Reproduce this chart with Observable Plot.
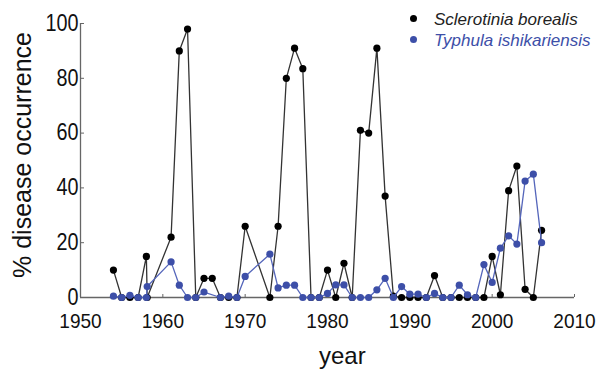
<!DOCTYPE html>
<html><head><meta charset="utf-8">
<script src="https://cdn.jsdelivr.net/npm/d3@7"></script>
<script src="https://cdn.jsdelivr.net/npm/@observablehq/plot@0.6"></script>
<style>
body{margin:0;background:#fff;}
#wrap{position:relative;width:599px;height:375px;overflow:hidden;}
.lab{position:absolute;font-family:"Liberation Sans",Arial,sans-serif;color:#111;white-space:nowrap;}
.leg{position:absolute;font-family:"Liberation Sans",Arial,sans-serif;font-style:italic;font-size:17px;white-space:nowrap;}
.dot{display:inline-block;width:7px;height:7px;border-radius:50%;margin-right:17px;vertical-align:middle;position:relative;top:-2px;}
</style>
</head><body>
<div id="wrap"></div>
<script>
const years = [1954,1955,1956,1957,1958,1958.1,1961,1962,1963,1964,1965,1966,1967,1968,1969,1970,
  1973,1974,1975,1976,1977,1978,1979,1980,1981,1982,1983,1984,1985,1986,1987,1988,1989,1990,
  1991,1992,1993,1994,1995,1996,1997,1998,1999,2000,2001,2002,2003,2004,2005,2006];
const sclerotinia = [10,0,0,0,15,0,22,90,98,0,7,7,0,0,0,26,
  0,26,80,91,83.5,0,0,10,0,12.5,0,61,60,91,37,0.5,0,0,
  0,0,8,0,0,0,0,0,0,15,1,39,48,3,0,24.5];
const typhula = [0.5,0,0.8,0,0,4,13,4.5,0,0,2,null,0,0.5,0,7.7,
  15.8,3.5,4.5,4.5,0,0,0,1.5,4.6,4.6,0,0,0,2.8,7,0,4,1.2,
  1.2,0,1.5,0,0,4.5,1,0,12,5.5,18,22.5,19.5,42.5,45,20];
const seriesNames = ["Sclerotinia borealis","Typhula ishikariensis"];
const xTicks = [1950,1960,1970,1980,1990,2000,2010];
const yTicks = [0,20,40,60,80,100];
const xLabel = "year";
const yLabel = "% disease occurrence";

const black = years.map((y,i)=>({year:y,v:sclerotinia[i]})).filter(d=>d.v!=null);
const blue = years.map((y,i)=>({year:y,v:typhula[i]})).filter(d=>d.v!=null);

const blackC = "#000", blackL = "#333";
const blueC = "#3d4fa8", blueL = "#5566bb";
const axisC = "#666";

const chart = Plot.plot({
  width:599, height:375,
  marginLeft:80, marginRight:25, marginTop:23, marginBottom:78,
  style:{fontFamily:"'Liberation Sans',Arial,sans-serif",fontSize:"23px",color:"#111",background:"#fff"},
  x:{domain:[1950,2010]},
  y:{domain:[0,100]},
  marks:[
    Plot.ruleY([0],{stroke:axisC,strokeWidth:1.3}),
    Plot.ruleX([1950],{stroke:axisC,strokeWidth:1.3}),
    Plot.axisX({ticks:xTicks,tickFormat:d=>String(d),tickSize:-3,tickPadding:19,stroke:axisC,label:null,fill:"#111",fontSize:21}),
    Plot.axisY({ticks:yTicks,tickSize:-4,tickPadding:6,stroke:axisC,label:null,fill:"#111"}),
    Plot.line(black,{x:"year",y:"v",stroke:blackL,strokeWidth:1.3}),
    Plot.dot(black,{x:"year",y:"v",r:3.6,fill:blackC}),
    Plot.line(blue,{x:"year",y:"v",stroke:blueL,strokeWidth:1.3}),
    Plot.dot(blue,{x:"year",y:"v",r:3.6,fill:blueC})
  ]
});
// condensed look for the tick labels
d3.select(chart).selectAll("g[aria-label='x-axis tick label'] text")
  .each(function(){
    this.setAttribute("textLength", this.textContent.length*10.6);
    this.setAttribute("lengthAdjust","spacingAndGlyphs");
  });
d3.select(chart).selectAll("g[aria-label='y-axis tick label'] text")
  .each(function(){
    this.setAttribute("textLength", this.textContent.length*11);
    this.setAttribute("lengthAdjust","spacingAndGlyphs");
  });
const wrap = document.getElementById("wrap");
wrap.appendChild(chart);

const xl = document.createElement("div");
xl.className="lab"; xl.textContent=xLabel;
xl.style.cssText="font-size:24px;left:319px;top:342px;";
wrap.appendChild(xl);

const yl = document.createElement("div");
yl.className="lab"; yl.textContent=yLabel;
yl.style.cssText="font-size:25px;left:22px;top:155px;transform:translate(-50%,-50%) rotate(-90deg);";
wrap.appendChild(yl);

const colors=[blackC,blueC], tcol=["#222",blueC];
seriesNames.forEach((n,i)=>{
  const d=document.createElement("div");
  d.className="leg";
  d.style.left="410px"; d.style.top=(10+i*21)+"px"; d.style.color=tcol[i];
  d.innerHTML='<span class="dot" style="background:'+colors[i]+'"></span>';
  d.appendChild(document.createTextNode(n));
  wrap.appendChild(d);
});
</script>
</body></html>
